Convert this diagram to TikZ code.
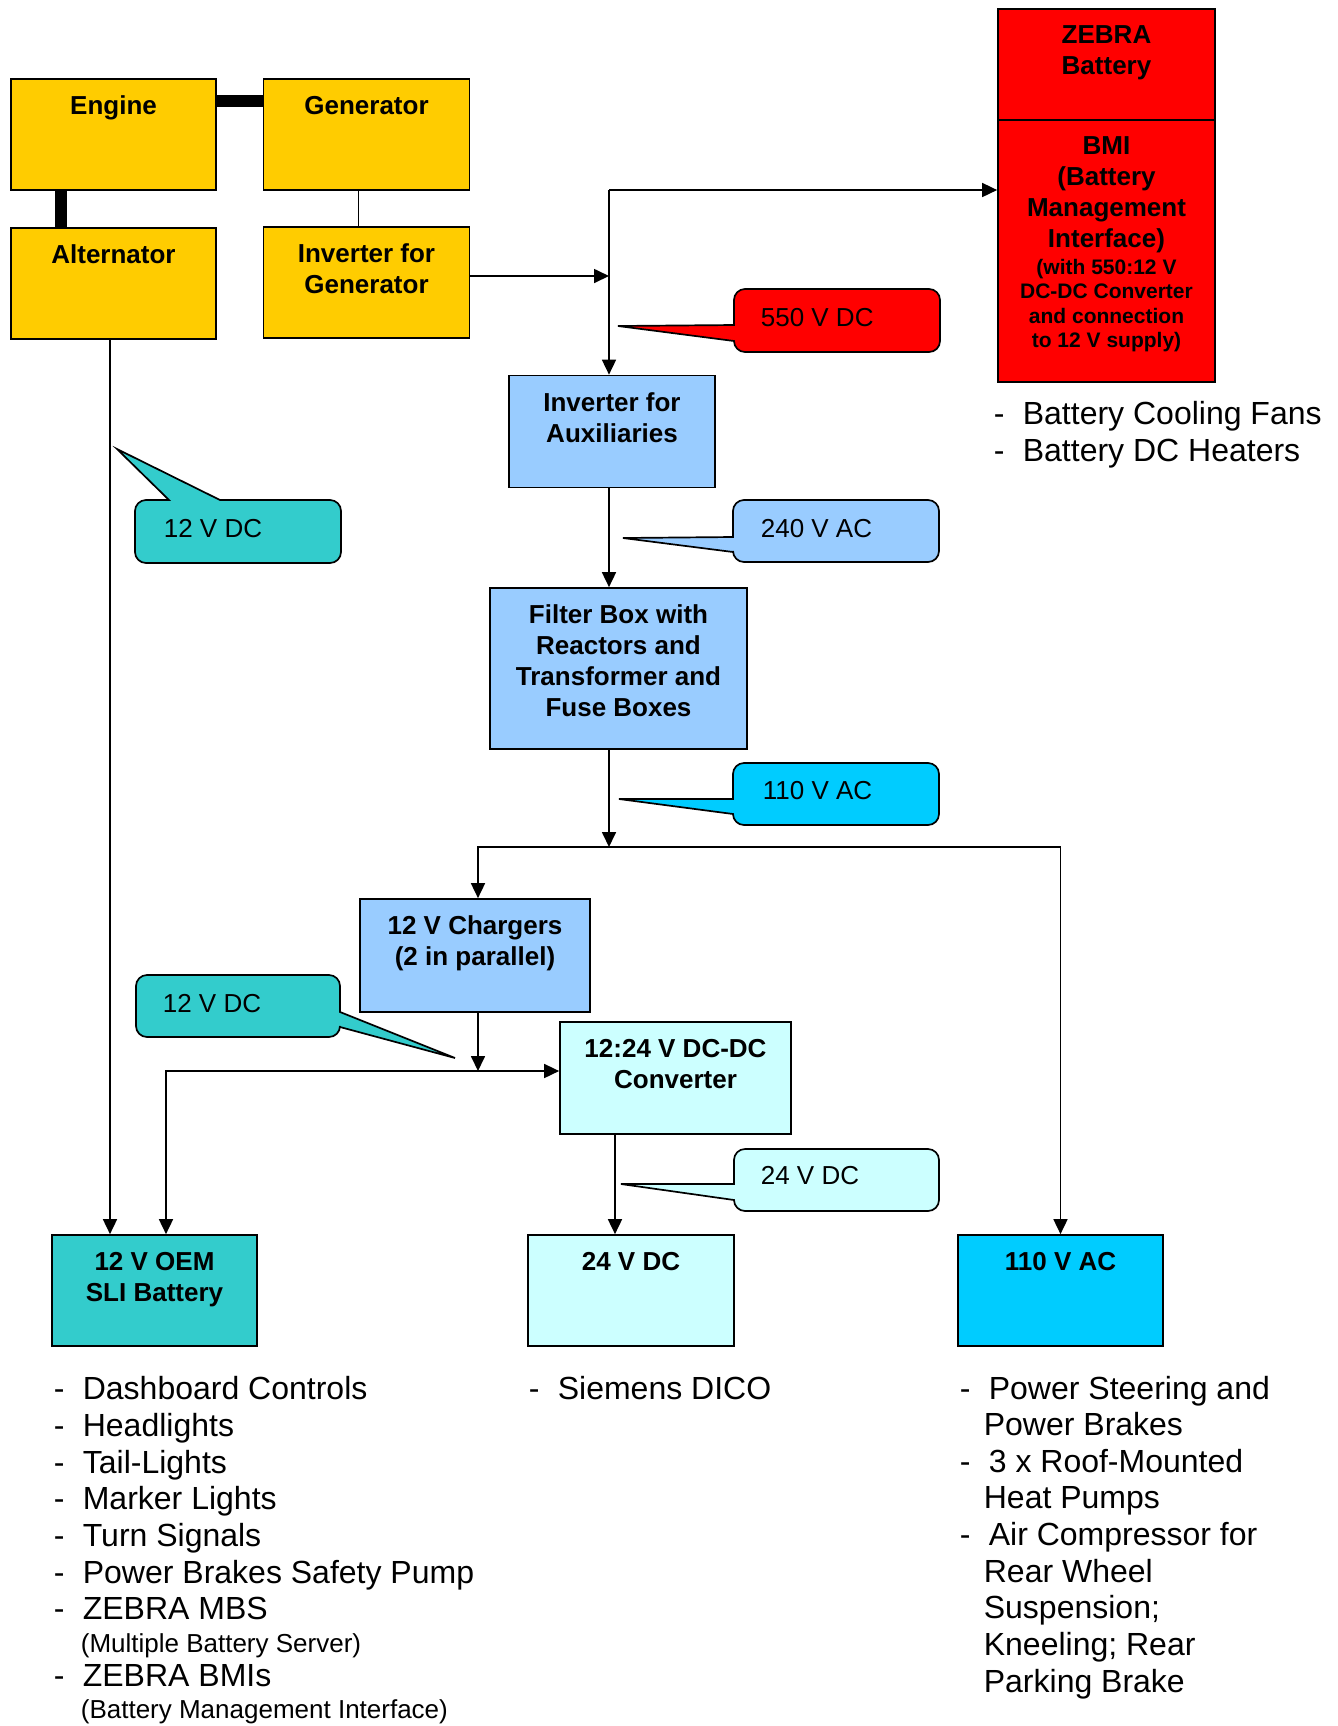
\documentclass[tikz,border=0pt]{standalone}
\usepackage{fontspec}
\setmainfont{Liberation Sans}
\usetikzlibrary{arrows.meta}

\definecolor{gold}{HTML}{FFCC00}
\definecolor{zebrared}{HTML}{FF0000}
\definecolor{sky}{HTML}{99CCFF}
\definecolor{teal12}{HTML}{33CCCC}
\definecolor{pale}{HTML}{CCFFFF}
\definecolor{aqua}{HTML}{00CCFF}

\newcommand{\itemdash}{\makebox[14.5pt][l]{-}}

\begin{document}
\begin{tikzpicture}
  [x=0.5pt,y=-0.5pt,line width=0.85pt,
   unit/.style={draw,inner sep=0pt},
   title/.style={anchor=north,yshift=-8.5pt,inner sep=0pt,align=flush center,
     font=\bfseries\fontsize{13}{15.5}\selectfont},
   shaft/.style={line width=5.8pt},
   bubble/.style={draw,rounded corners=5.5pt},
   bubbletext/.style={anchor=base west,inner sep=0pt,font=\fontsize{13}{15}\selectfont},
   item/.style={anchor=base west,inner sep=0pt,font=\fontsize{16}{18}\selectfont},
   note/.style={anchor=base west,inner sep=0pt,font=\fontsize{13}{15}\selectfont},
   >={Triangle[length=7.5pt,width=7pt]}]
  \useasboundingbox (0,0) rectangle (1338,1726);

  % drive train
  \node[unit,fill=gold,minimum width=102.5pt,minimum height=55.5pt] (engine) at (113.5,134.5) {};
  \node[unit,fill=gold,minimum width=103pt,minimum height=55.5pt] (generator) at (366.5,134.5) {};
  \node[unit,fill=gold,minimum width=102.5pt,minimum height=55.5pt] (alternator) at (113.5,283.5) {};
  \node[unit,fill=gold,minimum width=103pt,minimum height=55.5pt] (invgen) at (366.5,282.5) {};
  \node[title] (engine-t) at (engine.north) {Engine};
  \node[title] (generator-t) at (generator.north) {Generator};
  \node[title] (alternator-t) at (alternator.north) {Alternator};
  \node[title] (invgen-t) at (invgen.north) {Inverter for\\Generator};

  \draw[shaft] ([yshift=-11.5pt]engine.north east) -- ([yshift=-11.5pt]generator.north west);
  \draw[shaft] ([xshift=25.5pt]engine.south west) -- ([xshift=25.5pt]alternator.north west);
  \draw ([xshift=-4pt]generator.south) -- ([xshift=-4pt]invgen.north);

  % traction battery
  \node[unit,fill=zebrared,minimum width=108.5pt,minimum height=55.5pt] (zebra) at (1106.5,64.5) {};
  \node[unit,fill=zebrared,minimum width=108.5pt,minimum height=131pt] (bmi) at (1106.5,251) {};
  \node[title] (zebra-t) at (zebra.north) {ZEBRA\\Battery};
  \node[title,text width=105pt] (bmi-t) at (bmi.north)
    {BMI\\(Battery\\Management\\Interface)\par\vspace{1pt}
     {\fontsize{10.5}{12.25}\selectfont (with 550:12 V\\DC-DC Converter\\and connection\\to 12 V supply)\par}};

  % auxiliary chain
  \node[unit,fill=sky,minimum width=103pt,minimum height=56pt] (invaux) at (612,431.5) {};
  \node[unit,fill=sky,minimum width=128.5pt,minimum height=80.5pt] (filter) at (618.5,668.5) {};
  \node[unit,fill=sky,minimum width=115pt,minimum height=56.5pt] (chargers) at (475,955.5) {};
  \node[unit,fill=pale,minimum width=115.5pt,minimum height=56pt] (converter) at (675.5,1078) {};
  \node[title] (invaux-t) at (invaux.north) {Inverter for\\Auxiliaries};
  \node[title] (filter-t) at (filter.north) {Filter Box with\\Reactors and\\Transformer and\\Fuse Boxes};
  \node[title] (chargers-t) at (chargers.north) {12 V Chargers\\(2 in parallel)};
  \node[title] (converter-t) at (converter.north) {12:24 V DC-DC\\Converter};

  % loads
  \node[unit,fill=teal12,minimum width=102.5pt,minimum height=55.5pt] (oem) at (154.5,1290.5) {};
  \node[unit,fill=pale,minimum width=103pt,minimum height=55.5pt] (dc24) at (631,1290.5) {};
  \node[unit,fill=aqua,minimum width=102.5pt,minimum height=55.5pt] (ac110) at (1060.5,1290.5) {};
  \node[title] (oem-t) at (oem.north) {12 V OEM\\SLI Battery};
  \node[title] (dc24-t) at (dc24.north) {24 V DC};
  \node[title] (ac110-t) at (ac110.north) {110 V AC};

  % wiring
  \coordinate (bus) at (609,190);
  \coordinate (tap) at (609,276);
  \coordinate (split) at (609,847);
  \coordinate (mix) at (478,1071);
  \coordinate (feed) at (166,1071);
  \coordinate (drop) at (615,1132);
  \coordinate (alt) at (110,339);

  \draw[->] (invgen.east |- tap) -- (tap);
  \draw[->] (bus) -- (bmi.west |- bus);
  \draw[->] (bus) -- (invaux.north -| bus);
  \draw[->] (invaux.south -| bus) -- (filter.north -| bus);
  \draw[->] (filter.south -| split) -- (split);
  \draw[->] (split) -| (chargers.north -| mix);
  \draw[->] (split) -| (ac110.north);
  \draw[->] (chargers.south -| mix) -- (mix);
  \draw[<->] (oem.north -| feed) |- (converter.west |- feed);
  \draw[->] (converter.south -| drop) -- (dc24.north -| drop);
  \draw[->] (alternator.south -| alt) -- (oem.north -| alt);

  % voltage callouts
  \draw[bubble,fill=zebrared] (734,325) -- (734,289) -- (940,289) -- (940,352) -- (734,352)
    [sharp corners] -- (734,341) -- (618,326) -- cycle;
  \node[bubbletext] (v550) at (760,326) {550 V DC};

  \draw[bubble,fill=sky] (733,537) -- (733,500) -- (939,500) -- (939,562) -- (733,562)
    [sharp corners] -- (733,552) -- (623,538) -- cycle;
  \node[bubbletext] (v240) at (760,537) {240 V AC};

  \draw[bubble,fill=aqua] (733,799) -- (733,763) -- (939,763) -- (939,825) -- (733,825)
    [sharp corners] -- (733,814) -- (619,799) -- cycle;
  \node[bubbletext] (v110) at (762,799) {110 V AC};

  \draw[bubble,fill=pale] (734,1184) -- (734,1149) -- (939,1149) -- (939,1211) -- (734,1211)
    [sharp corners] -- (734,1200) -- (621,1184) -- cycle;
  \node[bubbletext] (v24) at (760,1184) {24 V DC};

  \draw[bubble,fill=teal12] (220,500) -- (341,500) -- (341,563) -- (135,563) -- (135,500)
    [sharp corners] -- (169,500) -- (117,449) -- cycle;
  \node[bubbletext] (v12a) at (163,537) {12 V DC};

  \draw[bubble,fill=teal12] (340,1012) -- (340,975) -- (136,975) -- (136,1037) -- (340,1037)
    [sharp corners] -- (340,1027) -- (455,1058) -- cycle;
  \node[bubbletext] (v12b) at (162,1012) {12 V DC};

  % load lists
  \node[item] (fans) at (993,424) {\itemdash Battery Cooling Fans};
  \node[item] (heaters) at (993,461) {\itemdash Battery DC Heaters};

  \foreach \y/\t [count=\i] in {1399/Dashboard Controls,1436/Headlights,1473/Tail-Lights,
      1509/Marker Lights,1546/Turn Signals,1583/Power Brakes Safety Pump,1619/ZEBRA MBS,1686/ZEBRA BMIs}
    \node[item] (oem-\i) at (53,\y) {\itemdash\t};
  \node[note] (oem-mbs) at (80,1652) {(Multiple Battery Server)};
  \node[note] (oem-bmi) at (80,1718) {(Battery Management Interface)};

  \node[item] (dico) at (528,1399) {\itemdash Siemens DICO};

  \foreach \y/\t [count=\i] in {1399/Power Steering and,1472/3 x Roof-Mounted,1545/Air Compressor for}
    \node[item] (ac-\i) at (959,\y) {\itemdash\t};
  \foreach \y/\t [count=\i] in {1435/Power Brakes,1508/Heat Pumps,1582/Rear Wheel,
      1618/Suspension;,1655/Kneeling; Rear,1692/Parking Brake}
    \node[item] (ac-more-\i) at (983,\y) {\t};

\end{tikzpicture}
\end{document}
